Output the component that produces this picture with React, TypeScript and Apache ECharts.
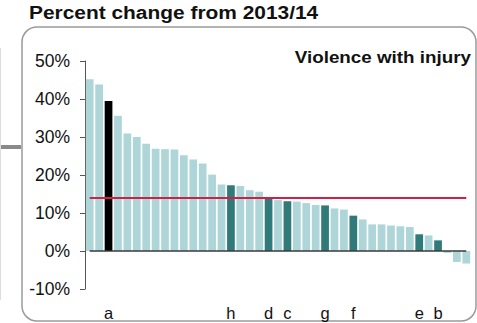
import React, { useEffect, useRef } from "react";
import * as echarts from "echarts";

const categories = [
  "c1","c2","c3","c4","c5","c6","c7","c8","c9","c10",
  "c11","c12","c13","c14","c15","c16","c17","c18","c19","c20",
  "c21","c22","c23","c24","c25","c26","c27","c28","c29","c30",
  "c31","c32","c33","c34","c35","c36","c37","c38","c39","c40","c41",
];
const tickLabels = [
  "","","a","","","","","","","",
  "","","","","","h","","","","d",
  "","c","","","","g","","","f","",
  "","","","","","e","","b","","","",
];
const values = [
  45.2, 43.8, 39.5, 35.6, 30.9, 30.0, 28.2, 26.9, 26.8, 26.7,
  25.2, 24.1, 23.0, 20.1, 17.5, 17.3, 17.1, 16.0, 15.6, 13.8,
  13.4, 13.1, 13.0, 12.6, 12.1, 12.0, 11.2, 10.9, 9.3, 8.3,
  7.0, 7.0, 6.7, 6.5, 6.3, 4.4, 4.1, 2.8, -0.5, -2.9, -3.3,
];
const averageValue = 14.1;
const yTicks = [-10, 0, 10, 20, 30, 40, 50];

const LIGHT = "#aed5d8";
const DARK = "#317a7a";
const BLACK = "#000000";

export default function App() {
  const ref = useRef<HTMLDivElement>(null);
  useEffect(() => {
    document.body.style.margin = "0";
    if (!ref.current) return;
    const chart = echarts.init(ref.current, null, { renderer: "svg" });
    const font = "'Liberation Sans', Arial, sans-serif";
    const data = values.map((v, i) => ({
      value: v,
      itemStyle: {
        color: tickLabels[i] === "a" ? BLACK : tickLabels[i] !== "" ? DARK : LIGHT,
      },
    }));
    chart.setOption({
      animation: false,
      backgroundColor: "#ffffff",
      grid: { left: 85, right: 6, top: 61, bottom: 34, containLabel: false },
      xAxis: {
        type: "category",
        data: categories,
        position: "bottom",
        axisLine: { show: false },
        axisTick: { show: false },
        splitLine: { show: false },
        axisLabel: {
          interval: 0,
          margin: 15,
          fontSize: 16.5,
          fontFamily: font,
          color: "#111",
          formatter: (_v: string, i: number) => tickLabels[i],
        },
      },
      yAxis: {
        type: "value",
        min: yTicks[0],
        max: yTicks[yTicks.length - 1],
        interval: 10,
        splitLine: { show: false },
        axisLine: { show: true, lineStyle: { color: "#555", width: 1 } },
        axisTick: { show: true, length: 5, lineStyle: { color: "#555" } },
        axisLabel: {
          margin: 15,
          fontSize: 17.5,
          fontFamily: font,
          color: "#111",
          formatter: (v: number) => `${v}%`,
        },
      },
      series: [
        {
          type: "bar",
          data,
          barCategoryGap: "18%",
          markLine: {
            silent: true,
            symbol: ["none", "none"],
            label: { show: false },
            data: [
              [
                { coord: [0, 0], lineStyle: { color: "#3a3a3a", width: 1.5, type: "solid" } },
                { coord: [categories.length - 1, 0] },
              ],
              [
                { coord: [0, averageValue], lineStyle: { color: "#d11f48", width: 2, type: "solid" } },
                { coord: [categories.length - 1, averageValue] },
              ],
            ],
          },
        },
      ],
      graphic: [
        {
          type: "rect",
          shape: { x: 22, y: 27, width: 454, height: 294, r: 15 },
          style: { fill: "none", stroke: "#9a9a9a", lineWidth: 1.5 },
          silent: true,
        },
        {
          type: "rect",
          shape: { x: 0, y: 145, width: 21, height: 4 },
          style: { fill: "#8a8a8a" },
          silent: true,
        },
        {
          type: "line",
          shape: { x1: 0.5, y1: 48, x2: 0.5, y2: 300 },
          style: { stroke: "#dddddd", lineWidth: 1 },
          silent: true,
        },
        {
          type: "text",
          x: 29,
          y: 3,
          scaleX: 1.1,
          style: {
            text: "Percent change from 2013/14",
            font: `bold 19px ${font}`,
            fill: "#111",
          },
        },
        {
          type: "text",
          x: 471,
          y: 49,
          scaleX: 1.14,
          style: {
            text: "Violence with injury",
            font: `bold 16.5px ${font}`,
            fill: "#111",
            textAlign: "right",
          },
        },
      ],
    });
    return () => chart.dispose();
  }, []);
  return <div ref={ref} style={{ width: 477, height: 323 }} />;
}
